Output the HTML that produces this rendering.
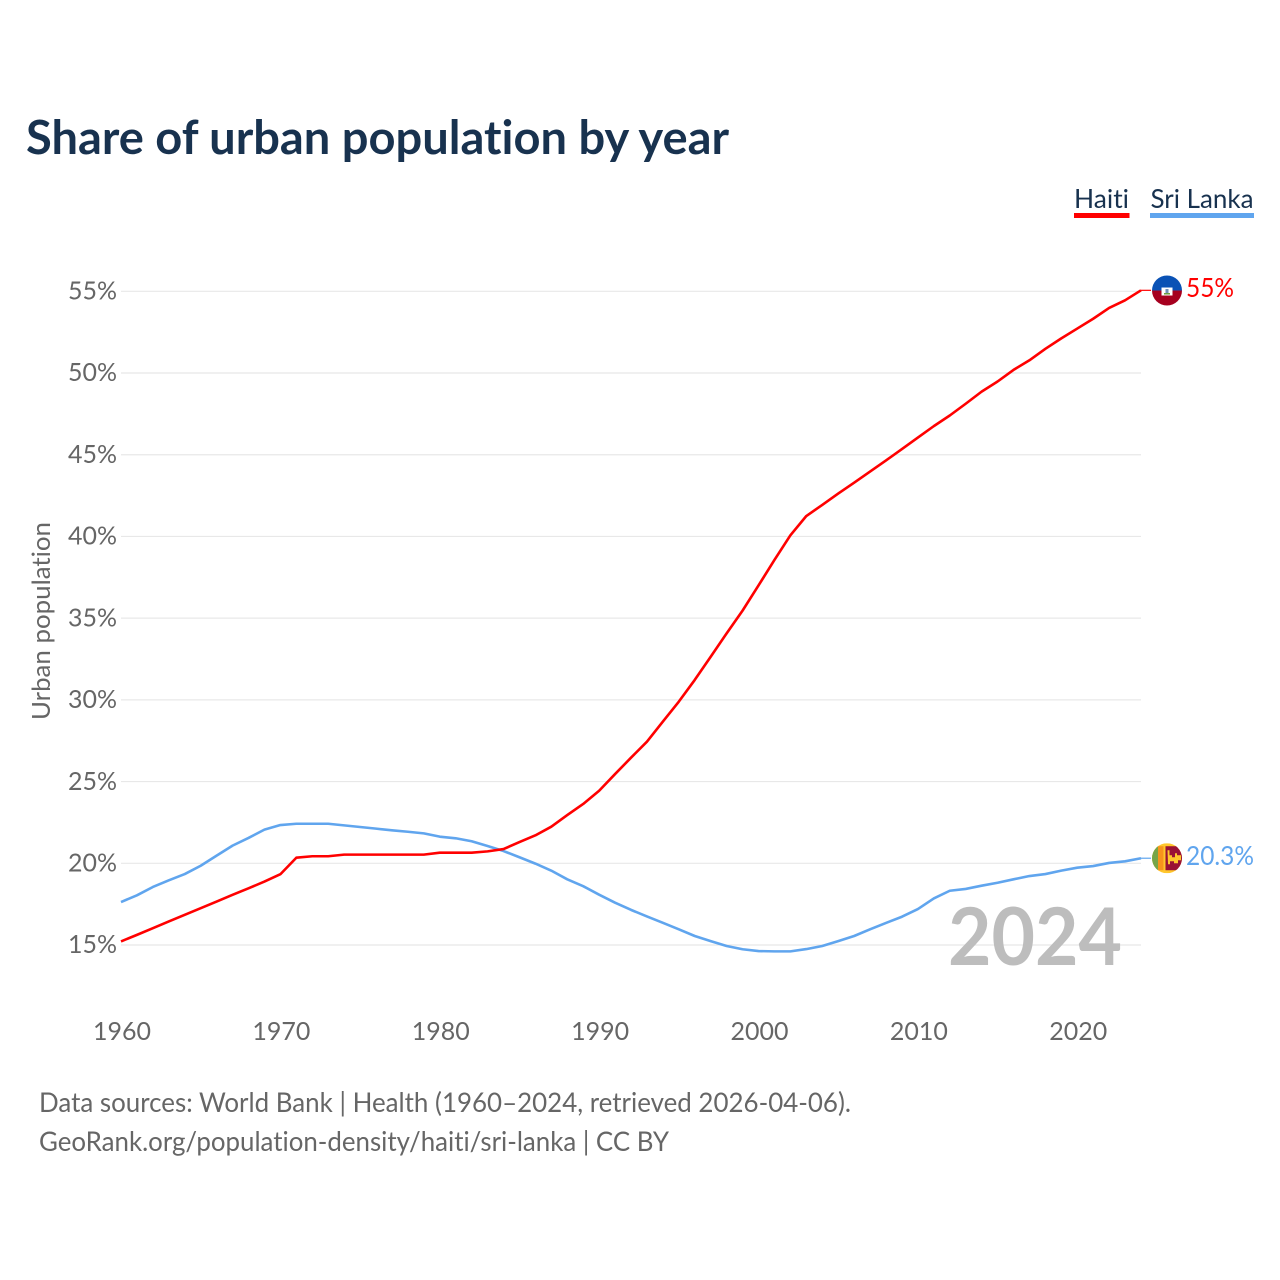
<!DOCTYPE html>
<html lang="en">
<head>
<meta charset="utf-8">
<title>Share of urban population by year</title>
<style>
html,body{margin:0;padding:0;background:#fff;}
svg{display:block;font-family:"Lato","Carlito","Liberation Sans",sans-serif;font-variant-ligatures:none;}
</style>
</head>
<body>
<svg id="chart" width="1280" height="1280" viewBox="0 0 1280 1280" xmlns="http://www.w3.org/2000/svg">
  <rect x="0" y="0" width="1280" height="1280" fill="#ffffff"/>
  <text x="26" y="154" font-size="47" font-weight="700" fill="#18324f" textLength="703" lengthAdjust="spacingAndGlyphs">Share of urban population by year</text>

  <g>
    <text x="1074" y="208" font-size="26.5" fill="#18324f" textLength="55" lengthAdjust="spacingAndGlyphs">Haiti</text>
    <rect x="1074" y="213" width="55.5" height="5" fill="#ff0000"/>
  </g>
  <g>
    <text x="1150.5" y="208" font-size="26.5" fill="#18324f" textLength="103" lengthAdjust="spacingAndGlyphs">Sri Lanka</text>
    <rect x="1150" y="213" width="104" height="5" fill="#60a5ee"/>
  </g>

  <text transform="translate(50,720) rotate(-90)" font-size="25.5" fill="#666666" textLength="198" lengthAdjust="spacingAndGlyphs">Urban population</text>

  <g id="grid"></g>
  <g id="yticks"></g>
  <g id="xticks"></g>

  <text x="948" y="965" font-size="80" font-weight="700" fill="#bdbdbd" textLength="174" lengthAdjust="spacingAndGlyphs">2024</text>

  <g id="series"></g>

  <defs>
    <clipPath id="flag-clip"><circle cx="0" cy="0" r="15"/></clipPath>
  </defs>
  <g id="flag-haiti">
    <g clip-path="url(#flag-clip)">
      <rect x="-15" y="-15" width="30" height="15" fill="#0a52b5"/>
      <rect x="-15" y="0" width="30" height="15" fill="#a6001f"/>
      <rect x="-5.5" y="-3" width="11" height="8" fill="#ffffff"/>
      <rect x="-3" y="2.5" width="6" height="1.5" fill="#6d9b3a"/>
      <rect x="-1.5" y="-1.5" width="3" height="4" fill="#6f8fb8"/>
    </g>
  </g>
  <g id="flag-sri-lanka">
    <g clip-path="url(#flag-clip)">
      <rect x="-15" y="-15" width="30" height="30" fill="#ffc72c"/>
      <rect x="-15" y="-12" width="6" height="24" fill="#76a548"/>
      <rect x="-9" y="-12" width="5.5" height="24" fill="#f7941d"/>
      <rect x="-1.5" y="-12" width="17" height="24" fill="#9a1235"/>
      <path d="M0.5 -8 H2.5 V-3 H5 V-1 H8 V-5 H10 V-3 H14 V2 H11 V5 H7 V3 H3 V6 H1 Z" fill="#ffc72c"/>
    </g>
  </g>
  <g id="end-labels"></g>

  <text x="39" y="1112" font-size="27.5" fill="#666666" textLength="812" lengthAdjust="spacingAndGlyphs">Data sources: World Bank | Health (1960–2024, retrieved 2026-04-06).</text>
  <text x="39" y="1151" font-size="27.5" fill="#666666" textLength="630" lengthAdjust="spacingAndGlyphs">GeoRank.org/population-density/haiti/sri-lanka | CC BY</text>
</svg>

<script>
const firstYear = 1960;
const lastYear = 2024;
const yTickValues = [15, 20, 25, 30, 35, 40, 45, 50, 55];
const xTickValues = [1960, 1970, 1980, 1990, 2000, 2010, 2020];
const haitiValues = [15.22, 15.62, 16.03, 16.44, 16.85, 17.25, 17.66, 18.07, 18.47, 18.88,
  19.33, 20.34, 20.43, 20.43, 20.53, 20.53, 20.53, 20.53, 20.53, 20.53,
  20.65, 20.65, 20.65, 20.73, 20.87, 21.3, 21.71, 22.24, 22.95, 23.63,
  24.44, 25.46, 26.46, 27.44, 28.67, 29.89, 31.22, 32.64, 34.07, 35.46,
  37.0, 38.56, 40.07, 41.25, 41.93, 42.62, 43.29, 43.97, 44.65, 45.35,
  46.05, 46.75, 47.4, 48.12, 48.86, 49.48, 50.19, 50.78, 51.48, 52.12,
  52.72, 53.32, 53.98, 54.45, 55.06];
const sriLankaValues = [17.63, 18.04, 18.55, 18.96, 19.34, 19.85, 20.47, 21.08, 21.55, 22.06,
  22.34, 22.42, 22.42, 22.42, 22.32, 22.22, 22.12, 22.02, 21.93, 21.83,
  21.63, 21.53, 21.35, 21.06, 20.75, 20.37, 19.98, 19.55, 19.02, 18.6,
  18.08, 17.59, 17.15, 16.75, 16.36, 15.96, 15.55, 15.24, 14.94, 14.74,
  14.63, 14.61, 14.61, 14.75, 14.94, 15.24, 15.55, 15.96, 16.35, 16.73,
  17.2, 17.85, 18.32, 18.43, 18.63, 18.81, 19.02, 19.22, 19.34, 19.55,
  19.73, 19.83, 20.02, 20.12, 20.31];
const endLabels = ["55%", "20.3%"];

const SVGNS = "http://www.w3.org/2000/svg";
function xScale(year) {
  return 121 + (year - firstYear) * (1141 - 121) / (lastYear - firstYear);
}
function yScale(value) {
  return 945 - (value - 15) * (945 - 291.3) / 40;
}
function make(tag, parent) {
  const el = document.createElementNS(SVGNS, tag);
  parent.appendChild(el);
  return el;
}

const gridGroup = document.getElementById("grid");
const yTickGroup = document.getElementById("yticks");
yTickValues.forEach(function (v) {
  const line = make("line", gridGroup);
  
  
  line.setAttribute("x1", xScale(firstYear));
  line.setAttribute("x2", xScale(lastYear));
  line.setAttribute("y1", yScale(v));
  line.setAttribute("y2", yScale(v));
  line.setAttribute("stroke", "#e8e8e8");
  line.setAttribute("stroke-width", "1.2");

  const label = make("text", yTickGroup);
  
  
  label.setAttribute("x", 117);
  label.setAttribute("y", yScale(v) + 8.2);
  label.setAttribute("text-anchor", "end");
  label.setAttribute("font-size", "25.5");
  label.setAttribute("fill", "#666666");
  label.setAttribute("textLength", "49");
  label.setAttribute("lengthAdjust", "spacingAndGlyphs");
  label.textContent = v + "%";
});

const xTickGroup = document.getElementById("xticks");
xTickValues.forEach(function (yr) {
  const label = make("text", xTickGroup);
  
  
  label.setAttribute("x", xScale(yr) + 1);
  label.setAttribute("y", 1040);
  label.setAttribute("text-anchor", "middle");
  label.setAttribute("font-size", "25.5");
  label.setAttribute("fill", "#666666");
  label.setAttribute("textLength", "58");
  label.setAttribute("lengthAdjust", "spacingAndGlyphs");
  label.textContent = yr;
});

function linePath(values) {
  return values.map(function (v, i) {
    return (i ? "L" : "M") + xScale(firstYear + i).toFixed(2) + " " + yScale(v).toFixed(2);
  }).join(" ");
}

const seriesGroup = document.getElementById("series");

const sriLine = make("path", seriesGroup);


sriLine.setAttribute("d", linePath(sriLankaValues));
sriLine.setAttribute("fill", "none");
sriLine.setAttribute("stroke", "#60a5ee");
sriLine.setAttribute("stroke-width", "2.6");
sriLine.setAttribute("stroke-linejoin", "round");

const haitiLine = make("path", seriesGroup);


haitiLine.setAttribute("d", linePath(haitiValues));
haitiLine.setAttribute("fill", "none");
haitiLine.setAttribute("stroke", "#ff0000");
haitiLine.setAttribute("stroke-width", "2.6");
haitiLine.setAttribute("stroke-linejoin", "round");

const haitiLast = haitiValues[haitiValues.length - 1];
const sriLast = sriLankaValues[sriLankaValues.length - 1];

const haitiConn = make("line", seriesGroup);


haitiConn.setAttribute("x1", xScale(lastYear));
haitiConn.setAttribute("x2", xScale(lastYear) + 10);
haitiConn.setAttribute("y1", yScale(haitiLast));
haitiConn.setAttribute("y2", yScale(haitiLast));
haitiConn.setAttribute("stroke", "#ff0000");
haitiConn.setAttribute("stroke-width", "1.2");

const sriConn = make("line", seriesGroup);


sriConn.setAttribute("x1", xScale(lastYear));
sriConn.setAttribute("x2", xScale(lastYear) + 10);
sriConn.setAttribute("y1", yScale(sriLast));
sriConn.setAttribute("y2", yScale(sriLast));
sriConn.setAttribute("stroke", "#60a5ee");
sriConn.setAttribute("stroke-width", "1.2");

document.getElementById("flag-haiti").setAttribute("transform",
  "translate(" + (xScale(lastYear) + 26) + "," + (yScale(haitiLast) + 0.2) + ")");
document.getElementById("flag-sri-lanka").setAttribute("transform",
  "translate(" + (xScale(lastYear) + 26) + "," + yScale(sriLast) + ")");

const endGroup = document.getElementById("end-labels");

const haitiEnd = make("text", endGroup);


haitiEnd.setAttribute("x", xScale(lastYear) + 45);
haitiEnd.setAttribute("y", yScale(haitiLast) + 6.5);
haitiEnd.setAttribute("font-size", "26.5");
haitiEnd.setAttribute("fill", "#ff0000");
haitiEnd.setAttribute("textLength", "48");
haitiEnd.setAttribute("lengthAdjust", "spacingAndGlyphs");
haitiEnd.textContent = endLabels[0];

const sriEnd = make("text", endGroup);


sriEnd.setAttribute("x", xScale(lastYear) + 45);
sriEnd.setAttribute("y", yScale(sriLast) + 7);
sriEnd.setAttribute("font-size", "26.5");
sriEnd.setAttribute("fill", "#60a5ee");
sriEnd.setAttribute("textLength", "68");
sriEnd.setAttribute("lengthAdjust", "spacingAndGlyphs");
sriEnd.textContent = endLabels[1];
</script>
</body>
</html>
